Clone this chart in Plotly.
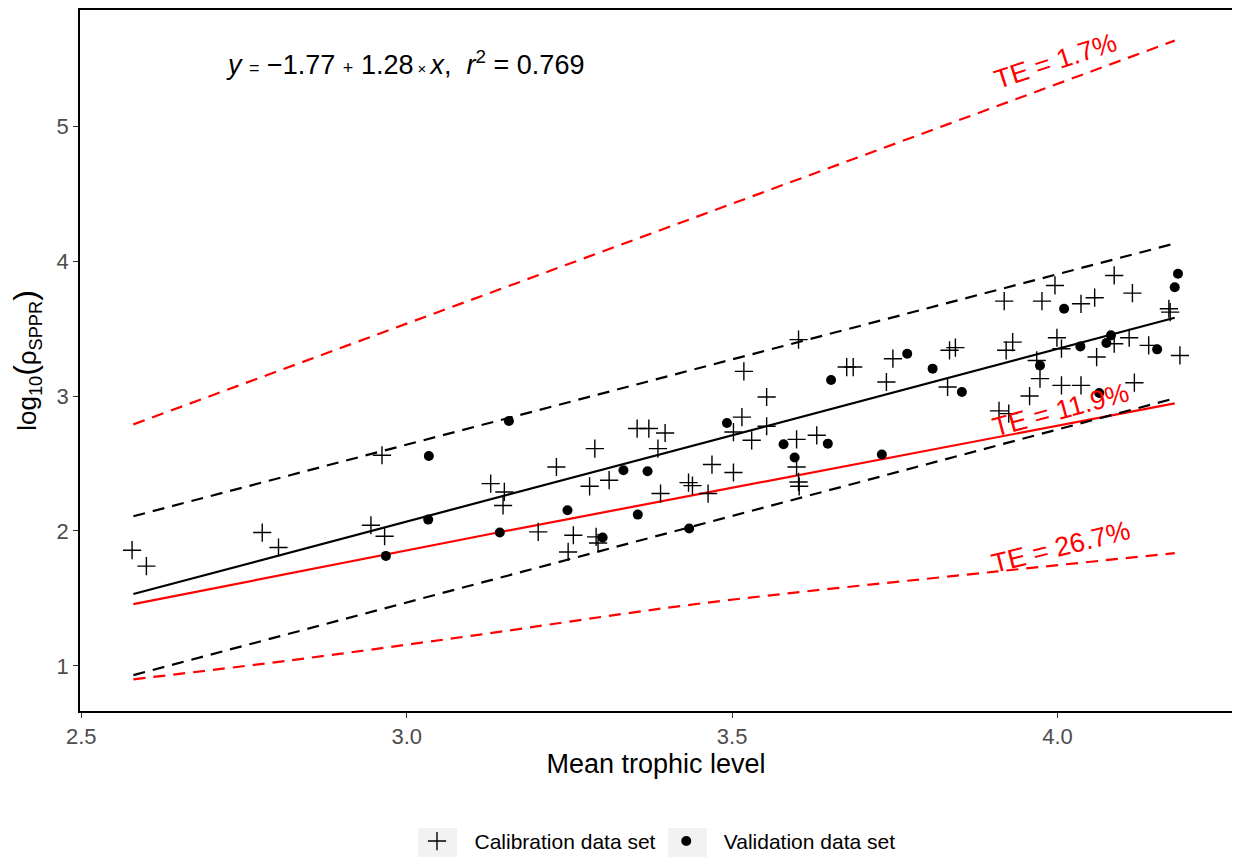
import plotly.graph_objects as go

# ---- data ----
cal_x = [2.578, 2.600, 2.778, 2.803, 2.945, 2.962, 2.966, 3.129, 3.150, 3.148,
         3.230, 3.289, 3.281, 3.311, 3.202, 3.256, 3.248, 3.291, 3.294, 3.354,
         3.372, 3.397, 3.386, 3.390, 3.433, 3.439, 3.469, 3.463, 3.502, 3.502,
         3.515, 3.530, 3.518, 3.553, 3.553, 3.602, 3.599, 3.599, 3.602, 3.603,
         3.630, 3.676, 3.686, 3.737, 3.747, 3.834, 3.843, 3.831, 3.918, 3.921,
         3.931, 3.910, 3.925, 3.957, 3.973, 3.968, 3.976, 3.996, 3.999, 4.006,
         4.006, 4.036, 4.036, 4.057, 4.060, 4.087, 4.087, 4.110, 4.115, 4.118,
         4.140, 4.171, 4.173, 4.188]
cal_y = [1.857, 1.739, 1.988, 1.877, 2.042, 2.561, 1.961, 2.351, 2.289, 2.189,
         2.474, 2.610, 2.331, 2.376, 1.993, 1.968, 1.844, 1.956, 1.911, 2.759,
         2.759, 2.726, 2.610, 2.277, 2.358, 2.336, 2.492, 2.277, 2.433, 2.733,
         2.844, 2.672, 3.183, 2.993, 2.776, 3.418, 2.679, 2.474, 2.363, 2.331,
         2.709, 3.215, 3.215, 3.104, 3.277, 3.339, 3.359, 3.067, 3.704, 3.339,
         3.400, 2.890, 2.870, 3.000, 3.129, 3.264, 3.704, 3.820, 3.432, 3.351,
         3.079, 3.079, 3.684, 3.729, 3.289, 3.894, 3.388, 3.432, 3.763, 3.099,
         3.376, 3.647, 3.622, 3.301]

val_x = [2.968, 3.033, 3.034, 3.143, 3.157, 3.247, 3.301, 3.333, 3.370, 3.355,
         3.434, 3.492, 3.579, 3.596, 3.647, 3.652, 3.730, 3.769, 3.808, 3.853,
         3.973, 4.010, 4.035, 4.064, 4.075, 4.082, 4.153, 4.180, 4.185]
val_y = [1.815, 2.084, 2.556, 1.988, 2.815, 2.153, 1.951, 2.450, 2.442, 2.121,
         2.018, 2.800, 2.642, 2.544, 2.647, 3.119, 2.566, 3.314, 3.203, 3.030,
         3.227, 3.647, 3.368, 3.022, 3.393, 3.450, 3.346, 3.807, 3.907]

# regression line and prediction bands (end points)
fit_x = [2.58, 4.18]
fit_y = [1.532, 3.580]
pi_up_y = [2.109, 4.131]
pi_lo_y = [0.931, 2.983]

# TE curves
te17_x = [2.58, 4.18]
te17_y = [2.790, 5.635]
te119_x = [2.58, 3.142, 4.18]
te119_y = [1.457, 1.990, 2.946]
te267_x = [2.58, 2.82, 3.11, 3.448, 3.908, 4.18]
te267_y = [0.900, 1.040, 1.230, 1.460, 1.700, 1.835]

legend_names = ["Calibration data set", "Validation data set"]
eq_text = ("<i>y</i> <span style='font-size:18px'>=</span> \u22121.77 "
           "<span style='font-size:18px'>+</span> 1.28<span style='font-size:15px'> \u00d7 </span><i>x</i>,"
           "  <i>r</i><sup>2</sup> = 0.769")
te_labels = ["TE = 1.7%", "TE = 11.9%", "TE = 26.7%"]
te_label_x = [3.997, 4.005, 4.005]
te_label_y = [5.487, 2.894, 1.879]
te_label_angle = [-18, -15, -14]

FONT = "Liberation Sans, Arial, sans-serif"
fig = go.Figure()

dash = "12px,8px"
fig.add_trace(go.Scatter(x=te17_x, y=te17_y, mode="lines", showlegend=False,
                         line=dict(color="#FF0000", width=2.2, dash=dash)))
fig.add_trace(go.Scatter(x=te267_x, y=te267_y, mode="lines", showlegend=False,
                         line=dict(color="#FF0000", width=2.2, dash=dash, shape="spline")))
fig.add_trace(go.Scatter(x=te119_x, y=te119_y, mode="lines", showlegend=False,
                         line=dict(color="#FF0000", width=2.2)))
fig.add_trace(go.Scatter(x=fit_x, y=pi_up_y, mode="lines", showlegend=False,
                         line=dict(color="black", width=2.2, dash=dash)))
fig.add_trace(go.Scatter(x=fit_x, y=pi_lo_y, mode="lines", showlegend=False,
                         line=dict(color="black", width=2.2, dash=dash)))
fig.add_trace(go.Scatter(x=fit_x, y=fit_y, mode="lines", showlegend=False,
                         line=dict(color="black", width=2.2)))

NB = "\u00a0\u00a0\u00a0"
fig.add_trace(go.Scatter(x=cal_x, y=cal_y, mode="markers", name=NB + legend_names[0] + "\u00a0",
                         marker=dict(symbol="cross-thin", size=13,
                                     line=dict(color="black", width=1.4), color="black")))
fig.add_trace(go.Scatter(x=val_x, y=val_y, mode="markers", name=NB + legend_names[1],
                         marker=dict(symbol="circle", size=10, color="black")))

fig.add_annotation(x=2.998, y=5.472, text=eq_text, showarrow=False,
                   font=dict(size=27, color="black", family=FONT))
for t, lx, ly, a in zip(te_labels, te_label_x, te_label_y, te_label_angle):
    fig.add_annotation(x=lx, y=ly, text=t, showarrow=False, textangle=a,
                       font=dict(size=27, color="#FF0000", family=FONT))

# legend key backgrounds (paper coordinates)
for x0, x1 in [(0.2934, 0.3273), (0.5104, 0.5443)]:
    fig.add_shape(type="rect", xref="paper", yref="paper", x0=x0, x1=x1,
                  y0=-0.2083, y1=-0.1669, fillcolor="#F2F2F2", line=dict(width=0),
                  layer="below")

fig.update_layout(
    width=1234, height=857,
    margin=dict(l=80, r=2, t=10, b=146, autoexpand=False),
    paper_bgcolor="white", plot_bgcolor="white",
    font=dict(family=FONT, color="black"),
    showlegend=True,
    legend=dict(orientation="h", x=0.5026, xanchor="center", y=-0.186, yanchor="middle",
                font=dict(size=21, color="black"),
                bgcolor="rgba(0,0,0,0)"),
    xaxis=dict(range=[2.498, 4.268], tickvals=[2.5, 3.0, 3.5, 4.0],
               ticktext=["2.5", "3.0", "3.5", "4.0"],
               showgrid=False, zeroline=False, showline=True, linecolor="black",
               linewidth=1.6, mirror=True, ticks="outside", ticklen=5, tickcolor="#333333",
               tickfont=dict(size=22, color="#4D4D4D"),
               title=dict(text="Mean trophic level", font=dict(size=27, color="black"),
                          standoff=5)),
    yaxis=dict(range=[0.665, 5.862], tickvals=[1, 2, 3, 4, 5],
               ticktext=["1", "2", "3", "4", "5"],
               showgrid=False, zeroline=False, showline=True, linecolor="black",
               linewidth=1.6, ticks="outside", ticklen=5, tickcolor="#333333",
               tickfont=dict(size=22, color="#4D4D4D"),
               title=dict(text="log<sub>10</sub><span style='font-size:32px'>(</span>\u03c1<sub>SPPR</sub><span style='font-size:32px'>)</span>",
                          font=dict(size=26, color="black"), standoff=12)),
)

fig.write_html("out.html")
